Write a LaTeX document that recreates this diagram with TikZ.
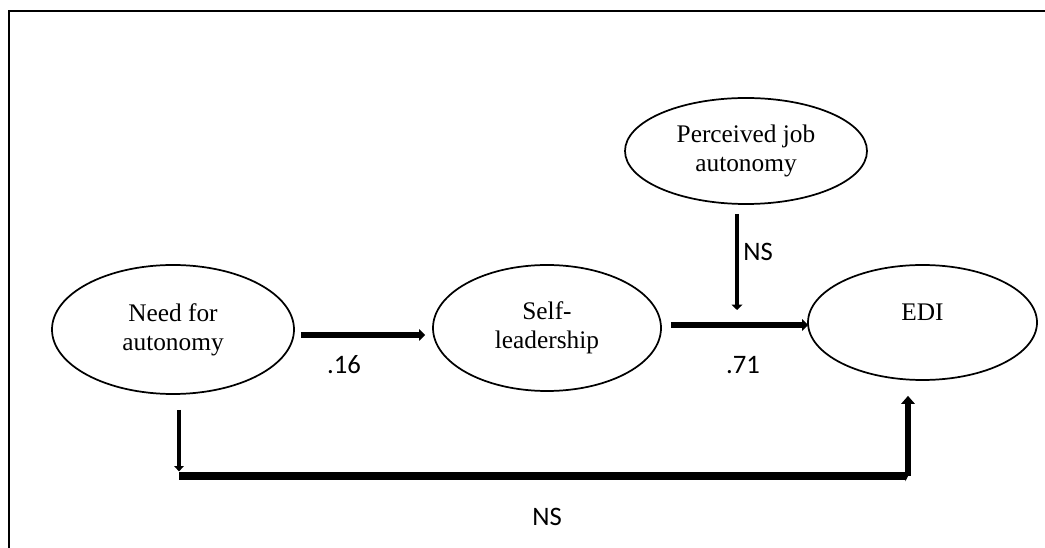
\documentclass[tikz,border=0pt]{standalone}
\usepackage{fontspec}
\setmainfont{Liberation Serif}
\newfontfamily\coeffont{Carlito}
\usetikzlibrary{arrows.meta,shapes.geometric}

\begin{document}
\begin{tikzpicture}[x=0.75pt,y=-0.75pt,
  var/.style={draw,ellipse,line width=1.3pt,inner sep=0pt,align=center,
    font=\fontsize{19}{21.75}\selectfont},
  coef/.style={font=\coeffont\fontsize{20}{22}\selectfont},
  effect/.style={line width=5pt,-{Triangle[length=4.5pt,width=8.5pt]}}]
  \clip (0,0) rectangle (1045,548);
  \draw[line width=1.5pt] (9,548) -- (9,11.5) -- (1045,11.5);
  % variables
  \node[var,minimum width=181.5pt,minimum height=96.75pt] (need) at (173,329.5) {Need for\\autonomy};
  \node[var,minimum width=171pt,minimum height=94.5pt] (self) at (547,328) {Self-\\leadership};
  \node[var,minimum width=171.75pt,minimum height=86.25pt] (edi) at (922.5,322.5) {\smash{\raisebox{1.3pt}{EDI}}};
  \node[var,minimum width=181.5pt,minimum height=79.5pt] (perc) at (746,151) {Perceived job\\autonomy};
  % paths
  \draw[effect] ([shift={(6,5.5)}]need.east) -- ([shift={(-7,7)}]self.west);
  \draw[effect] ([shift={(9,-3)}]self.east) -- ([shift={(1,2.5)}]edi.west);
  \coordinate (mod) at (737,310);
  \draw[line width=3pt,-{Triangle[length=4pt,width=8pt]}] ([shift={(-9,9)}]perc.south) -- (mod);
  \coordinate (c1) at (179,476);
  \coordinate (c2) at (908,476);
  \draw[line width=3pt,shorten >=3.4pt,-{Triangle[length=4pt,width=7pt]}] ([shift={(6,15)}]need.south) -- (c1);
  \draw[line width=6.5pt,-{Triangle[length=2pt,width=8pt]}] (c1) -- (c2);
  \draw[line width=5pt,-{Triangle[length=6pt,width=10pt]}] (c2) -- ([shift={(-14.5,15)}]edi.south);
  % coefficients
  \node[coef] (b1) at (344,365) {.16};
  \node[coef] (b2) at (743,365) {.71};
  \node[coef] (b3) at (758,252) {NS};
  \node[coef] (b4) at (547,517) {NS};
\end{tikzpicture}
\end{document}
